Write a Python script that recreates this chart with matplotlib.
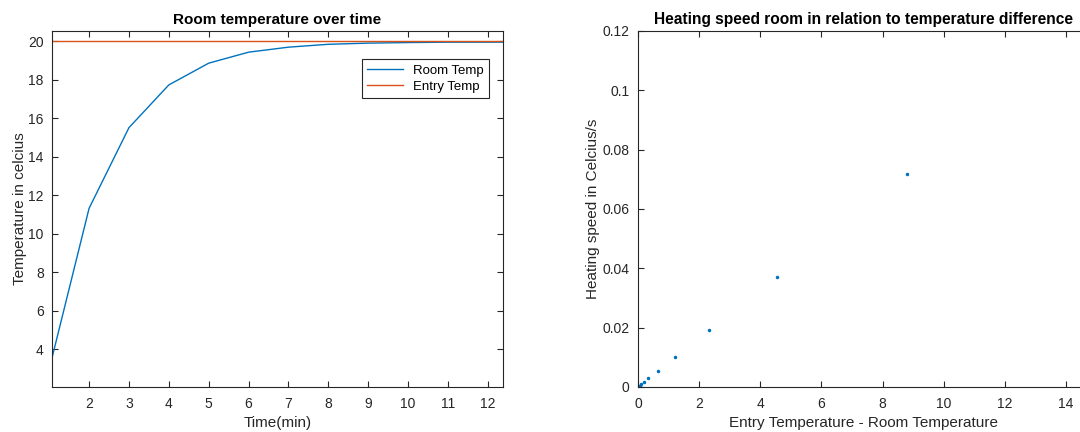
import matplotlib
matplotlib.use('Agg')
import matplotlib.pyplot as plt

# room temperature over time
time_min = [1.07, 2, 3, 4, 5, 6, 7, 8, 9, 10, 11, 12, 12.4]
room_temp = [3.55, 11.32, 15.51, 17.73, 18.86, 19.43, 19.69, 19.84, 19.90, 19.93, 19.95, 19.95, 19.95]
entry_temp = [20.0] * len(time_min)

# heating speed vs temperature difference
temp_diff = [8.81, 4.54, 2.33, 1.22, 0.64, 0.34, 0.19, 0.10, 0.05, 0.025, 0.012]
heat_speed = [0.0718, 0.0370, 0.0192, 0.0100, 0.0054, 0.0030, 0.0017, 0.0009, 0.0005, 0.00025, 0.0001]

BLUE = '#0072BD'
ORANGE = '#D95319'
DARK = '#262626'

plt.rcParams['font.family'] = ['Liberation Sans', 'DejaVu Sans']
plt.rcParams['axes.edgecolor'] = DARK
plt.rcParams['xtick.color'] = DARK
plt.rcParams['ytick.color'] = DARK


def style_axes(ax):
    ax.tick_params(direction='in', top=True, right=True, labelsize=10, length=4, width=0.8)
    ax.tick_params(axis='x', pad=7)
    ax.tick_params(axis='y', pad=6)
    for s in ax.spines.values():
        s.set_linewidth(0.8)


fig = plt.figure(figsize=(10.8, 4.32), dpi=100)

ax1 = fig.add_axes([52 / 1080, 45 / 432, 451 / 1080, 356 / 432])
ax1.plot(time_min, room_temp, color=BLUE, lw=1, label='Room Temp')
ax1.plot(time_min, entry_temp, color=ORANGE, lw=1, label='Entry Temp')
ax1.set_xlim(1.07, 12.38)
ax1.set_ylim(2.04, 20.53)
ax1.set_xticks(range(2, 13))
ax1.set_yticks(range(4, 21, 2))
ax1.set_title('Room temperature over time', fontsize=11, fontweight='bold', pad=5)
ax1.set_xlabel('Time(min)', fontsize=11, color=DARK, labelpad=4)
ax1.set_ylabel('Temperature in celcius', fontsize=11, color=DARK, labelpad=1)
style_axes(ax1)
leg = ax1.legend(loc='upper right', bbox_to_anchor=(0.969, 0.921), borderaxespad=0,
                 fontsize=9.5, fancybox=False, framealpha=1, edgecolor=DARK,
                 borderpad=0.4, handlelength=2.7, labelspacing=0.3)
leg.get_frame().set_linewidth(0.8)

ax2 = fig.add_axes([638 / 1080, 45 / 432, 451 / 1080, 356 / 432])
ax2.plot(temp_diff, heat_speed, linestyle='none', marker='.', markersize=3, color=BLUE)
ax2.set_xlim(0, 14.75)
ax2.set_ylim(0, 0.12)
ax2.set_xticks(range(0, 15, 2))
ax2.set_yticks([0, 0.02, 0.04, 0.06, 0.08, 0.1, 0.12])
ax2.set_yticklabels(['0', '0.02', '0.04', '0.06', '0.08', '0.1', '0.12'])
ax2.set_title('Heating speed room in relation to temperature difference',
              fontsize=11.2, fontweight='bold', pad=5)
ax2.set_xlabel('Entry Temperature - Room Temperature', fontsize=11, color=DARK, labelpad=4)
ax2.set_ylabel('Heating speed in Celcius/s', fontsize=11, color=DARK, labelpad=2)
style_axes(ax2)

fig.savefig('out.png', dpi=100)
